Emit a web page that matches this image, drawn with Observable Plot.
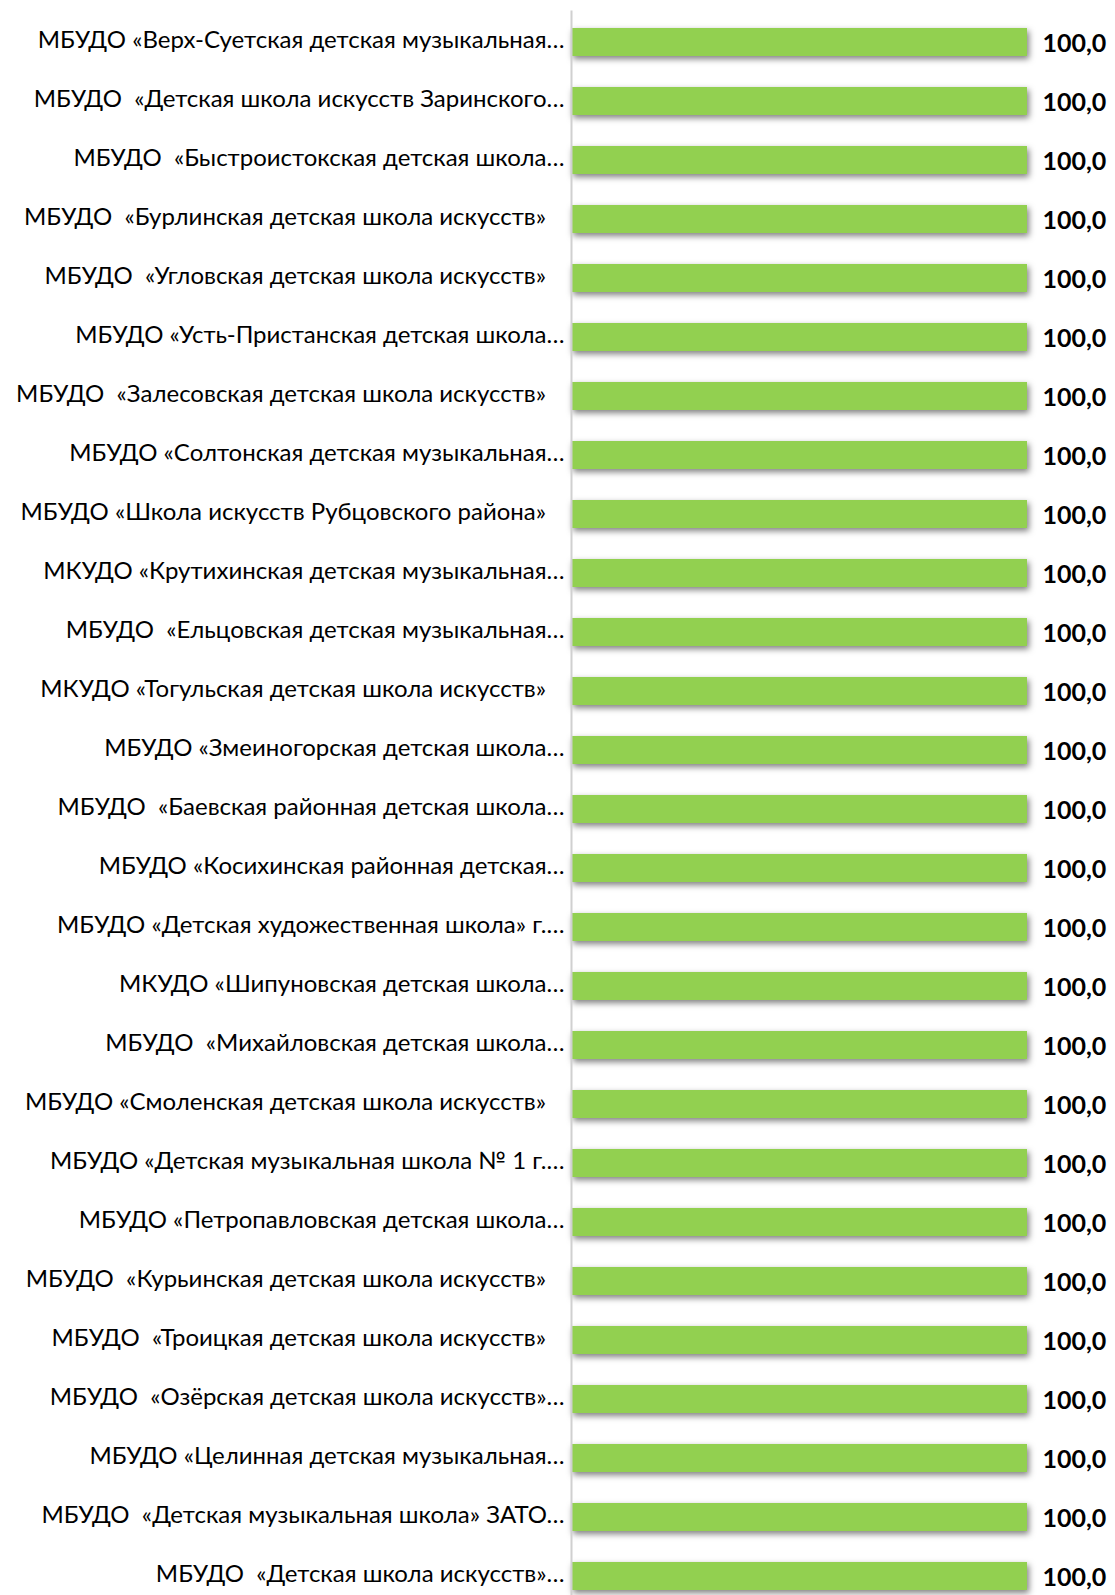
<!DOCTYPE html>
<html>
<head>
<meta charset="utf-8">
<script src="https://cdn.jsdelivr.net/npm/d3@7"></script>
<script src="https://cdn.jsdelivr.net/npm/@observablehq/plot@0.6"></script>
<style>
  html, body { margin: 0; padding: 0; background: #fff; }
  #chart svg { display: block; overflow: hidden; }
  #chart svg text { white-space: pre; }
</style>
</head>
<body>
<div id="chart"></div>
<script>
const schools = [
  "МБУДО «Верх-Суетская детская музыкальная…",
  "МБУДО  «Детская школа искусств Заринского…",
  "МБУДО  «Быстроистокская детская школа…",
  "МБУДО  «Бурлинская детская школа искусств»   ",
  "МБУДО  «Угловская детская школа искусств»   ",
  "МБУДО «Усть-Пристанская детская школа…",
  "МБУДО  «Залесовская детская школа искусств»   ",
  "МБУДО «Солтонская детская музыкальная…",
  "МБУДО «Школа искусств Рубцовского района»   ",
  "МКУДО «Крутихинская детская музыкальная…",
  "МБУДО  «Ельцовская детская музыкальная…",
  "МКУДО «Тогульская детская школа искусств»   ",
  "МБУДО «Змеиногорская детская школа…",
  "МБУДО  «Баевская районная детская школа…",
  "МБУДО «Косихинская районная детская…",
  "МБУДО «Детская художественная школа» г.…",
  "МКУДО «Шипуновская детская школа…",
  "МБУДО  «Михайловская детская школа…",
  "МБУДО «Смоленская детская школа искусств»   ",
  "МБУДО «Детская музыкальная школа № 1 г.…",
  "МБУДО «Петропавловская детская школа…",
  "МБУДО  «Курьинская детская школа искусств»   ",
  "МБУДО  «Троицкая детская школа искусств»   ",
  "МБУДО  «Озёрская детская школа искусств»…",
  "МБУДО «Целинная детская музыкальная…",
  "МБУДО  «Детская музыкальная школа» ЗАТО…",
  "МБУДО  «Детская школа искусств»…"
];
const values = [
  100, 100, 100, 100, 100, 100, 100, 100, 100,
  100, 100, 100, 100, 100, 100, 100, 100, 100,
  100, 100, 100, 100, 100, 100, 100, 100, 100
];

const data = schools.map((name, i) => ({name, value: values[i]}));
const fmt = v => v.toFixed(1).replace(".", ",");
const FONT = "Lato, Carlito, 'Open Sans', sans-serif";

const chart = Plot.plot({
  width: 1115,
  height: 1595,
  marginLeft: 571,
  marginRight: 88,
  marginTop: 10.4,
  marginBottom: -12.5,
  style: {fontFamily: FONT, fontSize: "24px", color: "#000", background: "#fff"},
  x: {domain: [0, 100], axis: null},
  y: {domain: schools, paddingInner: 0.53, paddingOuter: 0.265, label: null},
  marks: [
    Plot.barX(data, {x: "value", y: "name", fill: "#92D050"}),
    Plot.ruleX([0], {stroke: "#d0d0d0", strokeWidth: 2}),
    Plot.axisY({tickSize: 0, tickPadding: 7, fontSize: 24, fill: "#000", dy: -2, label: null}),
    Plot.text(data, {x: "value", y: "name", text: d => fmt(d.value), textAnchor: "start", dx: 15, dy: 1, fontWeight: "bold", fontSize: 25, fill: "#000"})
  ]
});

d3.select(chart).selectAll("g[aria-label='bar'] rect")
  .style("filter", "drop-shadow(2px 3px 3px rgba(0,0,0,0.5))");

document.getElementById("chart").appendChild(chart);
</script>
</body>
</html>
